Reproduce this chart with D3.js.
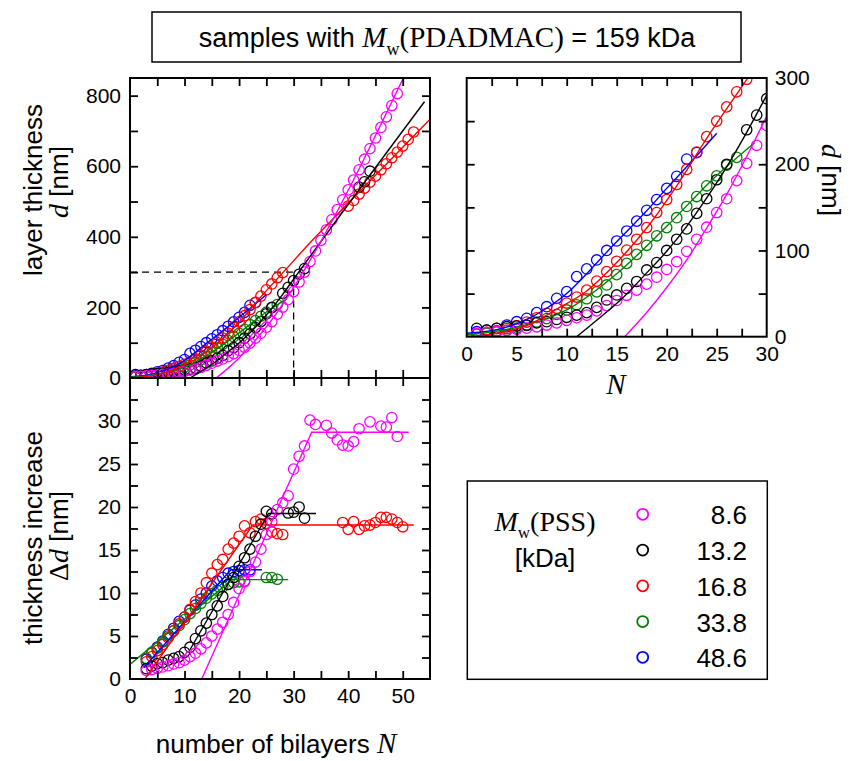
<!DOCTYPE html>
<html><head><meta charset="utf-8">
<script src="https://cdn.jsdelivr.net/npm/d3@7"></script>
<style>body{margin:0;background:#fff}svg{display:block}</style>
</head><body><svg id="chart" width="868" height="761"></svg>
<script>
// ---------------- data ----------------
const seriesLabels = ["8.6", "13.2", "16.8", "33.8", "48.6"];
const seriesColors = ["#ff00ff", "#000000", "#ff0000", "#008000", "#0000ff"];

// layer thickness d [nm] vs number of bilayers N
const dN_mag = [1,2,3,4,5,6,7,8,9,10,11,12,13,14,15,16,17,18,19,20,21,22,23,24,25,26,27,28,29,30,31,32,33,34,35,36,37,38,39,40,41,42,43,44,45,46,47,48,49];
const d_mag  = [4,5,6,7,8.5,10,11.5,13.5,16,19,22,25,30,36,42,48,54,61,69,78,87,99,113,127,144,160,181,201,222,245,272,300,330,360,390,420,449,477,505,533,561,590,620,650,680,710,740,772,806];
const dN_blk = [1,2,3,4,5,6,7,8,9,10,11,12,13,14,15,16,17,18,19,20,21,22,23,24,25,26,28,29,30,31,32,42,43,44];
const d_blk  = [9.7,7.7,9.7,11.6,12.4,13.5,16,17.4,20,22.5,25,27.9,34,42.6,48.4,56,64,77.4,86,100,113,125,143,160,182,200,240,257,276,294,310,541,556,586];
const dN_red = [1,2,3,4,5,6,7,8,9,10,11,12,13,14,15,16,17,18,19,20,21,22,23,24,25,26,27,28,40,41,42,43,44,45,46,47,48,49,50,51,52];
const d_red  = [3,5,7,9.5,13,17,22,27,33,39,46,54,64.5,75.5,87.5,100.5,113,126.5,144,159,176.5,194,214,232,250,266.5,284,298.5,487,503,521,538,555,572,590,607,624,640,657,676,697];
const dN_grn = [1,2,3,4,5,6,7,8,9,10,11,12,13,14,15,16,17,18,19,20,21,22,23,24,25,26,27];
const d_grn  = [3,4,5.5,7.5,10,13,17,21,26,31,37,44,52,60,72,85,95.5,106,117,126.5,138,151,162.5,175,186.5,199,208];
const dN_blu = [1,2,3,4,5,6,7,8,9,10,11,12,13,14,15,16,17,18,19,20,21,22,23];
const d_blu  = [5.8,7.7,9.7,13.5,17.4,21.3,27.9,34.8,44.5,52.3,69.7,78.6,89,100,111,122.6,134,146.6,159,172,186,206,213.5];

// thickness increase Δd [nm] vs N
const ddN_mag = [3,4,5,6,7,8,9,10,11,12,13,14,15,16,17,18,19,20,21,22,23,24,25,26,27,28,29,30,31,32,33,34,36,37,38,39,40,41,42,44,46,47,48,49];
const dd_mag  = [1.0,1.1,1.25,1.4,1.55,1.75,1.9,2.2,2.6,3.0,3.5,4.2,5.0,5.8,6.6,7.5,8.9,10.5,11.3,12.5,13.6,15.1,16.8,18.3,19.7,20.5,21.3,24.4,25.9,27.1,30.1,29.6,29.5,28.6,27.8,27.2,27.1,27.6,29.1,29.9,29.4,29.3,30.4,28.2];
const ddN_blk = [3,4,5,6,7,8,9,10,11,12,13,14,15,16,17,18,19,20,21,22,23,24,25,26,29,30,31,32];
const dd_blk  = [1.2,1.5,1.8,1.9,2.2,2.4,2.6,3.1,3.7,4.7,5.6,6.5,7.5,8.5,9.6,11.0,11.8,13.1,14.1,15.1,16.6,18.0,19.5,19.2,19.3,19.4,20.0,18.7];
const ddN_red = [3,4,5,6,7,8,9,10,11,12,13,14,15,16,17,18,19,20,21,22,23,24,25,26,27,28,39,40,41,42,43,44,45,46,47,48,49,50];
const dd_red  = [2.0,2.6,3.3,4.0,4.8,5.6,6.4,7.2,8.1,9.0,10.0,11.2,12.3,13.3,13.9,15.1,15.8,16.6,17.8,17.0,18.3,18.6,18.1,17.1,16.9,16.8,18.2,17.4,18.3,17.4,17.8,17.9,18.2,18.8,18.8,18.6,18.2,17.7];
const ddN_grn = [3,4,5,6,7,8,9,10,11,12,13,14,15,16,17,18,19,20,21,25,26,27];
const dd_grn  = [2.4,3.0,3.6,4.3,5.0,5.6,6.2,6.9,7.6,8.2,8.8,9.4,9.9,10.3,10.7,11.0,11.2,11.3,11.4,11.8,11.8,11.6];
const ddN_blu = [3,4,5,6,7,8,9,10,11,12,13,14,15,16,17,18,19,20,21,22];
const dd_blu  = [2.3,3.1,3.7,4.4,5.2,5.9,6.7,7.2,8.0,8.6,9.3,10.0,10.8,11.4,11.8,12.3,12.5,12.6,12.7,12.7];

// fitted curves, d [nm]
const fitDN_mag = [15.8,18,20,22,24,26,28,30,33.3,50.3];
const fitD_mag  = [0,28,57,89,126,165,209,256,341,856];
const fitDN_blk = [11,13,15.7,18,20,22,24,26,28,30,54];
const fitD_blk  = [0,19,46,74,99,128,161,197,237,280,783];
const fitDN_red = [0,3,6,9,12,15,18,21,24,28,33.6,40,55];
const fitD_red  = [0,4,13,32,53,86,126,175,230,298,393,495,733];
const fitDN_grn = [0,5,10,15,20,25,28.8];
const fitD_grn  = [2,11,31,73,128,187,225];
const fitDN_blu = [0,3,6,8,10,12,14,16,18,20,22,25];
const fitD_blu  = [4,8,20,33,50,73,98,122,146,172,197,236];

// fitted curves, Δd [nm]
const fitDdN_mag = [13.15,33.3,51.1];  const fitDd_mag = [0,28.7,28.7];
const fitDdN_blk = [11,25.4,34.1];     const fitDd_blk = [3.4,19.25,19.25];
const fitDdN_red = [2.75,22.5,52];     const fitDd_red = [0,17.9,17.9];
const fitDdN_grn = [0,18.7,29];        const fitDd_grn = [1.7,11.55,11.55];
const fitDdN_blu = [2.5,18.5,24.2];    const fitDd_blu = [1.3,12.7,12.7];

// guide (dashed) at N = 30, d = 300 nm
const guideN = 30, guideD = 300;

// axis ticks
const xTicksMain = [5,10,15,20,25,30,35,40,45,50];
const xLabelsMain = [0,10,20,30,40,50];
const yTicksD = [100,200,300,400,500,600,700,800];
const yLabelsD = [0,200,400,600,800];
const yTicksDd = [2.5,5,7.5,10,12.5,15,17.5,20,22.5,25,27.5,30,32.5];
const yLabelsDd = [0,5,10,15,20,25,30];
const xTicksZoom = [2.5,5,7.5,10,12.5,15,17.5,20,22.5,25,27.5];
const xLabelsZoom = [0,5,10,15,20,25,30];
const yTicksZoom = [50,100,150,200,250];
const yLabelsZoom = [0,100,200,300];

// ---------------- build ----------------
const SANS = "'Liberation Sans', Arial, sans-serif";
const SERIF = "'Liberation Serif', 'Times New Roman', serif";
const svg = d3.select("#chart");

const series = [
  {c:seriesColors[0], dN:dN_mag, d:d_mag, ddN:ddN_mag, dd:dd_mag, fN:fitDN_mag, f:fitD_mag, gN:fitDdN_mag, g:fitDd_mag},
  {c:seriesColors[1], dN:dN_blk, d:d_blk, ddN:ddN_blk, dd:dd_blk, fN:fitDN_blk, f:fitD_blk, gN:fitDdN_blk, g:fitDd_blk},
  {c:seriesColors[2], dN:dN_red, d:d_red, ddN:ddN_red, dd:dd_red, fN:fitDN_red, f:fitD_red, gN:fitDdN_red, g:fitDd_red},
  {c:seriesColors[3], dN:dN_grn, d:d_grn, ddN:ddN_grn, dd:dd_grn, fN:fitDN_grn, f:fitD_grn, gN:fitDdN_grn, g:fitDd_grn},
  {c:seriesColors[4], dN:dN_blu, d:d_blu, ddN:ddN_blu, dd:dd_blu, fN:fitDN_blu, f:fitD_blu, gN:fitDdN_blu, g:fitDd_blu}
];
const drawOrder = [4,3,2,1,0];

const x1 = d3.scaleLinear().domain([0,55]).range([130,430]);
const y1 = d3.scaleLinear().domain([0,850]).range([378,78]);
const y2 = d3.scaleLinear().domain([0,35]).range([679,378]);
const x3 = d3.scaleLinear().domain([0,30]).range([466.7,766.7]);
const y3 = d3.scaleLinear().domain([0,300]).range([336.7,78]);

const defs = svg.append("defs");
function clip(id, x, y){
  defs.append("clipPath").attr("id", id).append("rect")
    .attr("x", x.range()[0]).attr("y", y.range()[1])
    .attr("width", x.range()[1]-x.range()[0]).attr("height", y.range()[0]-y.range()[1]);
}
clip("c1", x1, y1); clip("c2", x1, y2); clip("c3", x3, y3);

function plotSeries(id, x, y, key){
  const g = svg.append("g").attr("clip-path", `url(#${id})`);
  drawOrder.forEach(i => {
    const s = series[i];
    const pts = key === "d" ? s.dN.map((n,k)=>[n, s.d[k]]) : s.ddN.map((n,k)=>[n, s.dd[k]]);
    g.append("g").selectAll("circle").data(pts).join("circle")
      .attr("cx", p=>x(p[0])).attr("cy", p=>y(p[1])).attr("r", 5.2)
      .attr("fill","none").attr("stroke", s.c).attr("stroke-width", 1.3);
  });
  drawOrder.forEach(i => {
    const s = series[i];
    const fp = key === "d" ? s.fN.map((n,k)=>[n, s.f[k]]) : s.gN.map((n,k)=>[n, s.g[k]]);
    const line = d3.line().x(p=>x(p[0])).y(p=>y(p[1]))
      .curve(key === "d" ? d3.curveMonotoneX : d3.curveLinear);
    g.append("path").attr("d", line(fp)).attr("fill","none")
      .attr("stroke", s.c).attr("stroke-width", 1.4);
  });
  return g;
}

function ticks(axisFn, scale, tr, vals){
  const a = axisFn(scale).tickValues(vals).tickSize(-8).tickFormat("");
  const g = svg.append("g").attr("transform", tr).call(a);
  g.select(".domain").remove();
  g.selectAll("line").attr("stroke","#000").attr("stroke-width",1.8);
}
function labels(axisFn, scale, tr, vals, pad){
  const a = axisFn(scale).tickValues(vals).tickSize(0).tickPadding(pad);
  const g = svg.append("g").attr("transform", tr).call(a);
  g.select(".domain").remove();
  g.selectAll("text").attr("font-family", SANS).attr("font-size", 21).attr("fill","#000");
}
function frame(x, y){
  svg.append("rect").attr("x", x.range()[0]).attr("y", y.range()[1])
    .attr("width", x.range()[1]-x.range()[0]).attr("height", y.range()[0]-y.range()[1])
    .attr("fill","none").attr("stroke","#000").attr("stroke-width",2);
}

// dashed guide in top-left panel
const gGuide = svg.append("g").attr("clip-path","url(#c1)");
gGuide.append("path")
  .attr("d", d3.line()([[x1(0), y1(guideD)], [x1(guideN), y1(guideD)], [x1(guideN), y1(0)]]))
  .attr("fill","none").attr("stroke","#000").attr("stroke-width",1.3).attr("stroke-dasharray","7,5");

plotSeries("c1", x1, y1, "d");
plotSeries("c2", x1, y2, "dd");
plotSeries("c3", x3, y3, "d");

// top-left panel axes
frame(x1, y1);
ticks(d3.axisLeft, y1, `translate(${x1.range()[0]},0)`, yTicksD);
ticks(d3.axisRight, y1, `translate(${x1.range()[1]},0)`, yTicksD);
ticks(d3.axisTop, x1, `translate(0,${y1.range()[1]})`, xTicksMain);
ticks(d3.axisBottom, x1, `translate(0,${y1.range()[0]})`, xTicksMain);
labels(d3.axisLeft, y1, `translate(${x1.range()[0]},0)`, yLabelsD, 9);

// bottom-left panel axes
frame(x1, y2);
ticks(d3.axisLeft, y2, `translate(${x1.range()[0]},0)`, yTicksDd);
ticks(d3.axisRight, y2, `translate(${x1.range()[1]},0)`, yTicksDd);
ticks(d3.axisTop, x1, `translate(0,${y2.range()[1]})`, xTicksMain);
ticks(d3.axisBottom, x1, `translate(0,${y2.range()[0]})`, xTicksMain);
labels(d3.axisLeft, y2, `translate(${x1.range()[0]},0)`, yLabelsDd, 9);
labels(d3.axisBottom, x1, `translate(0,${y2.range()[0]})`, xLabelsMain, 9);

// top-right panel axes
frame(x3, y3);
ticks(d3.axisLeft, y3, `translate(${x3.range()[0]},0)`, yTicksZoom);
ticks(d3.axisRight, y3, `translate(${x3.range()[1]},0)`, yTicksZoom);
ticks(d3.axisTop, x3, `translate(0,${y3.range()[1]})`, xTicksZoom);
ticks(d3.axisBottom, x3, `translate(0,${y3.range()[0]})`, xTicksZoom);
labels(d3.axisRight, y3, `translate(${x3.range()[1]},0)`, yLabelsZoom, 8);
labels(d3.axisBottom, x3, `translate(0,${y3.range()[0]})`, xLabelsZoom, 9);

// ---------------- texts ----------------
function sans(t, txt, size){ return t.append("tspan").attr("font-family", SANS).attr("font-size", size).text(txt); }
function serif(t, txt, size, italic){ const s = t.append("tspan").attr("font-family", SERIF).attr("font-size", size).text(txt); if(italic) s.attr("font-style","italic"); return s; }

// title
svg.append("rect").attr("x",152).attr("y",12).attr("width",589).attr("height",50)
  .attr("fill","#fff").attr("stroke","#000").attr("stroke-width",1.5);
{
  const t = svg.append("text").attr("x", 447).attr("y", 47).attr("text-anchor","middle");
  sans(t, "samples with ", 27);
  serif(t, "M", 29, true);
  serif(t, "w", 18, false).attr("dy", 8);
  serif(t, "(PDADMAC)", 29, false).attr("dy", -8);
  sans(t, " = 159 kDa", 27);
}

// left axis titles
{
  const t = svg.append("text").attr("transform","translate(42,190) rotate(-90)").attr("text-anchor","middle");
  sans(t, "layer thickness", 26);
  const t2 = svg.append("text").attr("transform","translate(68,182) rotate(-90)").attr("text-anchor","middle");
  serif(t2, "d", 28, true); sans(t2, " [nm]", 26);
  const t3 = svg.append("text").attr("transform","translate(42,538) rotate(-90)").attr("text-anchor","middle");
  sans(t3, "thickness increase", 26);
  const t4 = svg.append("text").attr("transform","translate(68,536) rotate(-90)").attr("text-anchor","middle");
  serif(t4, "Δ", 28, false); serif(t4, "d", 28, true); sans(t4, " [nm]", 26);
}
// bottom x title
{
  const t = svg.append("text").attr("x", 276).attr("y", 753).attr("text-anchor","middle");
  sans(t, "number of bilayers ", 26);
  serif(t, "N", 29, true);
}
// right panel titles
{
  const t = svg.append("text").attr("x", 616).attr("y", 394).attr("text-anchor","middle");
  serif(t, "N", 29, true);
  const t2 = svg.append("text").attr("transform","translate(822,180) rotate(90)").attr("text-anchor","middle");
  serif(t2, "d", 28, true); sans(t2, " [nm]", 26);
}

// legend
svg.append("rect").attr("x",467.3).attr("y",481).attr("width",300).attr("height",198.3)
  .attr("fill","none").attr("stroke","#000").attr("stroke-width",1.5);
{
  const t = svg.append("text").attr("x", 545).attr("y", 531).attr("text-anchor","middle");
  serif(t, "M", 28, true);
  serif(t, "w", 17, false).attr("dy", 7);
  serif(t, "(PSS)", 28, false).attr("dy", -7);
  const t2 = svg.append("text").attr("x", 545).attr("y", 567).attr("text-anchor","middle");
  sans(t2, "[kDa]", 26);
  const ly = d3.scalePoint().domain(seriesLabels).range([514.3, 657.3]);
  const lg = svg.append("g");
  lg.selectAll("circle").data(seriesLabels).join("circle")
    .attr("cx", 642.7).attr("cy", d=>ly(d)).attr("r", 5.5)
    .attr("fill","none").attr("stroke", (d,i)=>seriesColors[i]).attr("stroke-width", 1.8);
  lg.selectAll("text").data(seriesLabels).join("text")
    .attr("x", 747).attr("y", d=>ly(d)+10).attr("text-anchor","end")
    .attr("font-family", SANS).attr("font-size", 26).text(d=>d);
}
</script></body></html>
